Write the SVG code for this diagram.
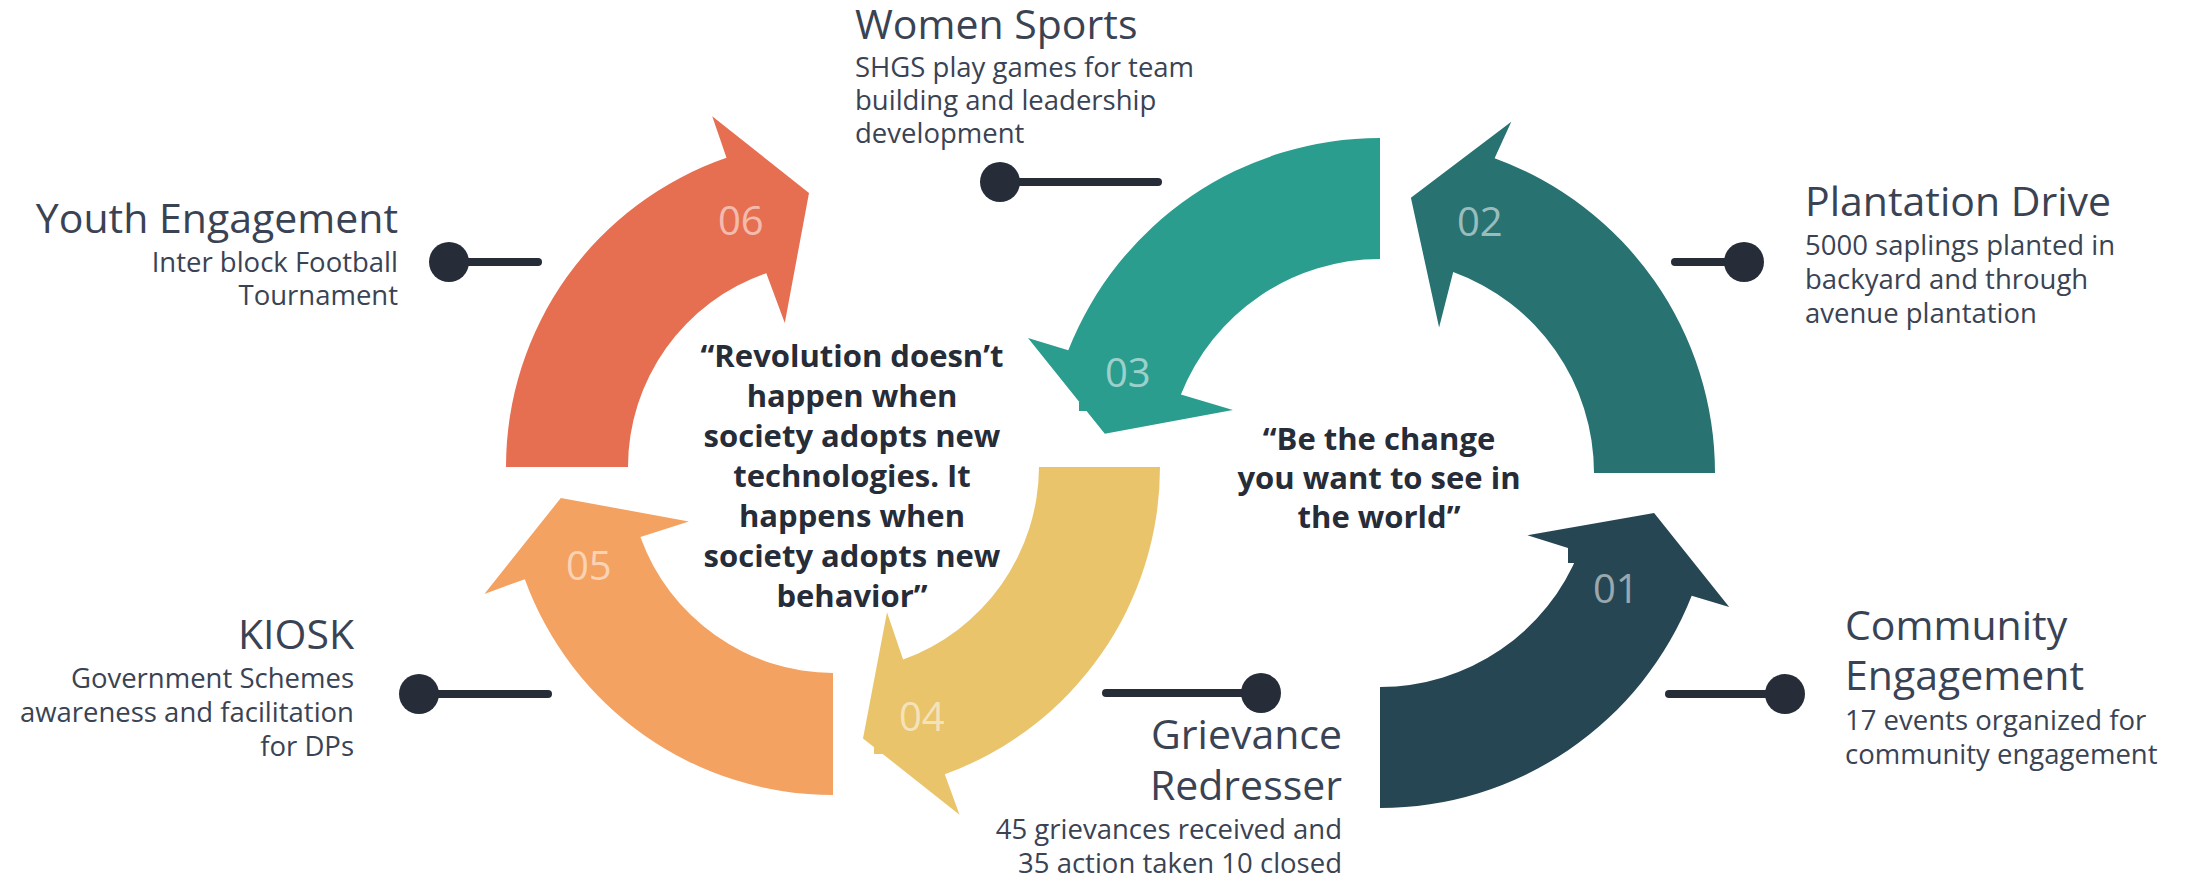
<svg xmlns="http://www.w3.org/2000/svg" width="2185" height="879" viewBox="0 0 2185 879">
<style>
.h{font-family:"Open Sans","Liberation Sans",sans-serif;font-weight:400;font-size:41px;fill:#3A4354}
.b{font-family:"Open Sans","Liberation Sans",sans-serif;font-weight:400;font-size:27.5px;fill:#3A4354}
.q{font-family:"Open Sans","Liberation Sans",sans-serif;font-weight:700;font-size:31px;fill:#262C38;text-anchor:middle}
.n{font-family:"Open Sans","Liberation Sans",sans-serif;font-weight:400;font-size:40px;fill:#ffffff;fill-opacity:0.55}
.e{text-anchor:end}
.ln{stroke:#262C38;stroke-width:8;stroke-linecap:round;fill:none}
.dot{fill:#262C38}
</style>
<rect width="2185" height="879" fill="#ffffff"/>

<g id="node-06">
<path fill="#E76F51" d="M628,467 L506,467 A327,327 0 0 1 726.5,157.8 L712.2,116.2 L809,193 L784.8,322.9 L766.3,273.2 A205,205 0 0 0 628,467 Z"/>
<text class="n" x="718" y="235">06</text>
<text class="h e" x="398" y="233">Youth Engagement</text>
<text class="b e" x="398" y="272">Inter block Football</text>
<text class="b e" x="398" y="305">Tournament</text>
</g>

<g id="node-05">
<path fill="#F4A261" d="M833,673 L833,795 A328,328 0 0 1 524.8,579.2 L484.4,593.9 L560.8,498 L688.9,521.4 L640.4,537.1 A206,206 0 0 0 833,673 Z"/>
<text class="n" x="566" y="580">05</text>
<text class="h e" x="354" y="649">KIOSK</text>
<text class="b e" x="354" y="688">Government Schemes</text>
<text class="b e" x="354" y="722">awareness and facilitation</text>
<text class="b e" x="354" y="756">for DPs</text>
</g>

<g id="node-04">
<path fill="#E9C46A" d="M1039,467 L1160,467 A327,327 0 0 1 944.8,774.3 L959.5,814.7 L863,738.4 L887,612.3 L903.1,659.6 A206,206 0 0 0 1039,467 Z"/>
<rect x="874" y="738" width="9" height="16" fill="#E9C46A"/>
<text class="n" x="899" y="731">04</text>
<text class="h e" x="1342" y="749">Grievance</text>
<text class="h e" x="1342" y="800">Redresser</text>
<text class="b e" x="1342" y="839">45 grievances received and</text>
<text class="b e" x="1342" y="873">35 action taken 10 closed</text>
</g>

<g id="node-03">
<path fill="#2A9D8F" d="M1380,259 L1380,138 A335,335 0 0 0 1068.3,350.2 L1028,337.9 L1104.8,433.8 L1232.9,410 L1180.9,394.6 A214,214 0 0 1 1380,259 Z"/>
<rect x="1079" y="402" width="9" height="9" fill="#2A9D8F"/>
<text class="n" x="1105" y="387">03</text>
<text class="h" x="855" y="39">Women Sports</text>
<text class="b" x="855" y="77">SHGS play games for team</text>
<text class="b" x="855" y="110">building and leadership</text>
<text class="b" x="855" y="143">development</text>
</g>

<g id="node-02">
<path fill="#287271" d="M1594,473 L1715,473 A335,335 0 0 0 1494.6,158.2 L1511.3,121.7 L1410.9,197.7 L1439.1,327.5 L1453.2,271.9 A214,214 0 0 1 1594,473 Z"/>
<text class="n" x="1457" y="236">02</text>
<text class="h" x="1805" y="216">Plantation Drive</text>
<text class="b" x="1805" y="255">5000 saplings planted in</text>
<text class="b" x="1805" y="289">backyard and through</text>
<text class="b" x="1805" y="323">avenue plantation</text>
</g>

<g id="node-01">
<path fill="#264653" d="M1380,687 L1380,808 A335,335 0 0 0 1691.7,595.8 L1729.2,607 L1654.1,513 L1527.4,535.3 L1579.1,551.4 A214,214 0 0 1 1380,687 Z"/>
<rect x="1568" y="547" width="13" height="16" fill="#264653"/>
<text class="n" x="1593" y="603">01</text>
<text class="h" x="1845" y="640">Community</text>
<text class="h" x="1845" y="690">Engagement</text>
<text class="b" x="1845" y="730">17 events organized for</text>
<text class="b" x="1845" y="764">community engagement</text>
</g>

<g id="quote-left">
<text class="q" x="852" y="367">“Revolution doesn’t</text>
<text class="q" x="852" y="407">happen when</text>
<text class="q" x="852" y="447">society adopts new</text>
<text class="q" x="852" y="487">technologies. It</text>
<text class="q" x="852" y="527">happens when</text>
<text class="q" x="852" y="567">society adopts new</text>
<text class="q" x="852" y="607">behavior”</text>
</g>

<g id="quote-right">
<text class="q" x="1379" y="450">“Be the change</text>
<text class="q" x="1379" y="489">you want to see in</text>
<text class="q" x="1379" y="528">the world”</text>
</g>

<g id="connectors">
<line class="ln" x1="1000" y1="182" x2="1158" y2="182"/>
<circle class="dot" cx="1000" cy="182" r="20"/>
<line class="ln" x1="449" y1="262" x2="538" y2="262"/>
<circle class="dot" cx="449" cy="262" r="20"/>
<line class="ln" x1="1675" y1="262" x2="1744" y2="262"/>
<circle class="dot" cx="1744" cy="262" r="20"/>
<line class="ln" x1="419" y1="694" x2="548" y2="694"/>
<circle class="dot" cx="419" cy="694" r="20"/>
<line class="ln" x1="1106" y1="693" x2="1261" y2="693"/>
<circle class="dot" cx="1261" cy="693" r="20"/>
<line class="ln" x1="1669" y1="694" x2="1785" y2="694"/>
<circle class="dot" cx="1785" cy="694" r="20"/>
</g>
</svg>
